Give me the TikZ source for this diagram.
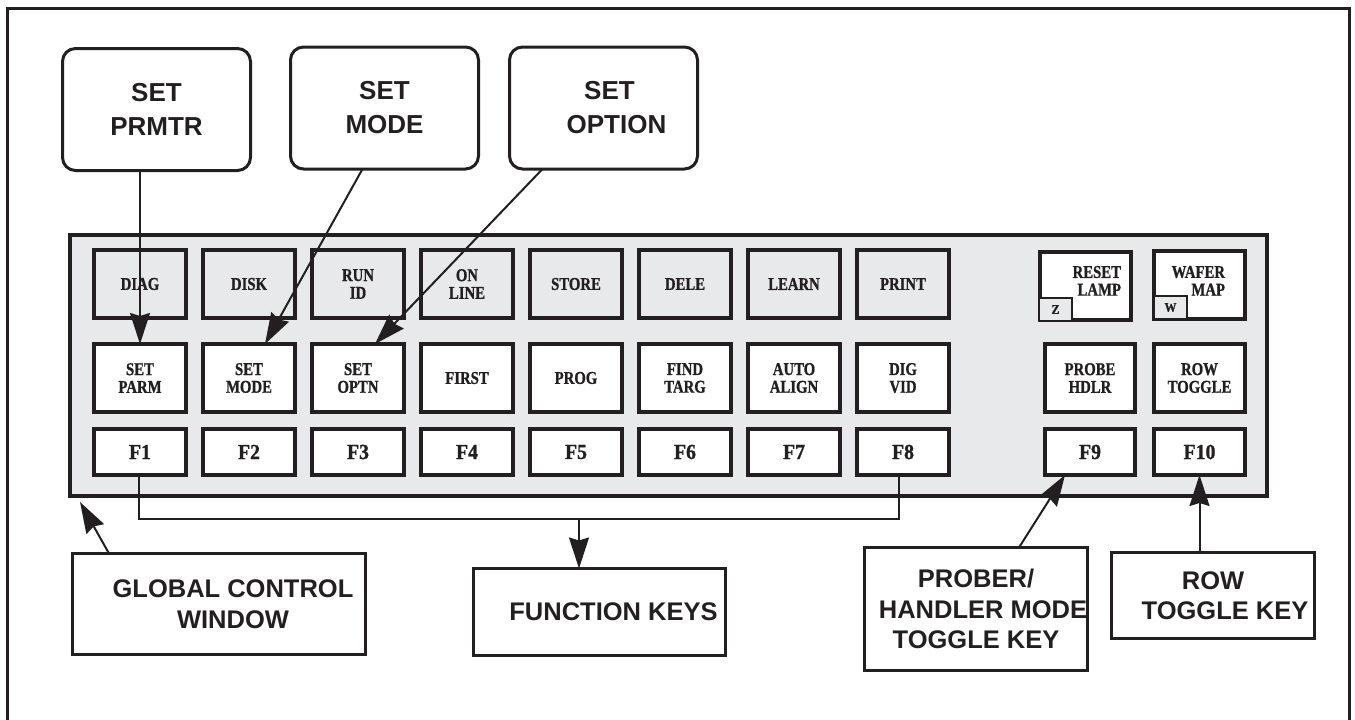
\documentclass[tikz,border=0pt]{standalone}
\usepackage{fontspec}
\setmainfont{Liberation Serif}
\setsansfont{Liberation Sans}
\newfontfamily\keyfont[FakeStretch=0.82,FakeBold=1]{Liberation Serif}
\newfontfamily\fkfont[FakeStretch=0.92,FakeBold=1]{Liberation Serif}
\usetikzlibrary{arrows.meta}
\definecolor{ink}{RGB}{35,31,32}
\definecolor{panel}{RGB}{232,233,235}
\begin{document}
\begin{tikzpicture}[x=1pt,y=-1pt,
  every node/.style={outer sep=0pt, inner sep=0pt, text=ink},
  topbox/.style={draw=ink, line width=3pt, rounded corners=13pt, minimum width=188pt, minimum height=122pt, align=center, font=\sffamily\bfseries\fontsize{26pt}{34pt}\selectfont},
  callout/.style={draw=ink, line width=3pt, align=center, font=\sffamily\bfseries\fontsize{25.5pt}{30.5pt}\selectfont},
  keybase/.style={draw=ink, line width=4pt, minimum width=92pt, minimum height=68pt, align=center, font=\keyfont\bfseries\fontsize{18pt}{17.7pt}\selectfont},
  grkey/.style={keybase, fill=panel},
  whkey/.style={keybase, fill=white},
  fkey/.style={keybase, fill=white, minimum height=46pt, font=\fkfont\bfseries\fontsize{21.5pt}{21pt}\selectfont},
  subkey/.style={draw=ink, line width=2pt, fill=panel, minimum width=33pt, minimum height=23pt, font=\fkfont\bfseries\fontsize{13pt}{13pt}\selectfont},
  keylbl/.style={align=right, font=\keyfont\bfseries\fontsize{18pt}{17.7pt}\selectfont},
  conn/.style={draw=ink, line width=2pt},
  arr/.style={conn, -{Stealth[length=31pt,width=20pt,inset=3pt]}},
]
\useasboundingbox (0,0) rectangle (1355,720);
% outer frame
\draw[ink, line width=3pt] (7,726) -- (7,8) -- (1349,8) -- (1349,726);

% top callouts
\node[topbox] (prmtr) at (156.5,109.5) {SET\\PRMTR};
\node[topbox] (mode) at (384.5,108) {SET\\MODE};
\node[topbox] (option) at (603.5,108) {\hspace*{12pt}SET\\\hspace*{26pt}OPTION};

% keypad panel
\node[draw=ink, line width=4pt, fill=panel, minimum width=1197pt, minimum height=261pt] (pad) at (668.5,365.5) {};

% row 1
\foreach \t [count=\i] in {DIAG,DISK,{RUN\\ID},{ON\\LINE},STORE,DELE,LEARN,PRINT}
  \node[grkey] (ra\i) at ({31+109*\i},284) {\t};
% row 2
\foreach \t [count=\i] in {{SET\\PARM},{SET\\MODE},{SET\\OPTN},FIRST,PROG,{FIND\\TARG},{AUTO\\ALIGN},{DIG\\VID}}
  \node[whkey] (rb\i) at ({31+109*\i},378) {\t};
% row 3
\foreach \i in {1,...,8}
  \node[fkey] (f\i) at ({31+109*\i},452) {F\i};

% right keys
\node[whkey, minimum width=91pt] (reset) at (1085.5,286) {};
\node[subkey] (zkey) at (1055.5,309.5) {Z};
\node[keylbl, anchor=north east] (resetlbl) at (1121,266) {RESET\\LAMP};
\node[whkey, minimum width=91pt] (wafer) at (1199.5,285) {};
\node[subkey] (wkey) at (1170.5,307.5) {W};
\node[keylbl, anchor=north east] (waferlbl) at (1225,266) {WAFER\\MAP};
\node[whkey, minimum width=90pt] (probe) at (1090,378) {PROBE\\HDLR};
\node[whkey, minimum width=91pt] (rowt) at (1199.5,378) {ROW\\TOGGLE};
\node[fkey, minimum width=90pt] (f9) at (1090,452) {F9};
\node[fkey, minimum width=91pt] (f10) at (1199.5,452) {F10};

% bottom callouts
\node[callout, minimum width=293pt, minimum height=101pt] (gcw) at (219,604) {\hspace*{28pt}GLOBAL CONTROL\\\hspace*{28pt}WINDOW};
\node[callout, minimum width=252pt, minimum height=87pt] (fk) at (599.5,612) {\hspace*{28pt}FUNCTION KEYS};
\node[callout, minimum width=223pt, minimum height=123pt] (phm) at (976,609) {PROBER/\\\hspace*{14pt}HANDLER MODE\\TOGGLE KEY};
\node[callout, minimum width=203pt, minimum height=86pt] (rtk) at (1213,595.5) {ROW\\\hspace*{24pt}TOGGLE KEY};

% connectors
\draw[arr] (prmtr.south -| rb1.north) -- (rb1.north);
\draw[arr] ([xshift=-22pt]mode.south) -- ([xshift=16pt]rb2.north);
\draw[arr] ([xshift=-61pt]option.south) -- ([xshift=17pt]rb3.north);
\draw[conn] ([xshift=-1pt]f1.south) -- ++(0,44) -| ([xshift=-4pt]f8.south);
\coordinate (bk) at (579,519);
\draw[arr] (bk) -- (bk |- fk.north);
\draw[arr] ([xshift=-110pt]gcw.north) -- ([xshift=10pt,yshift=-6pt]pad.south west);
\draw[arr] ([xshift=43pt]phm.north) -- ([xshift=-25pt]f9.south);
\draw[arr] (rtk.north -| f10.south) -- (f10.south);
\end{tikzpicture}
\end{document}
